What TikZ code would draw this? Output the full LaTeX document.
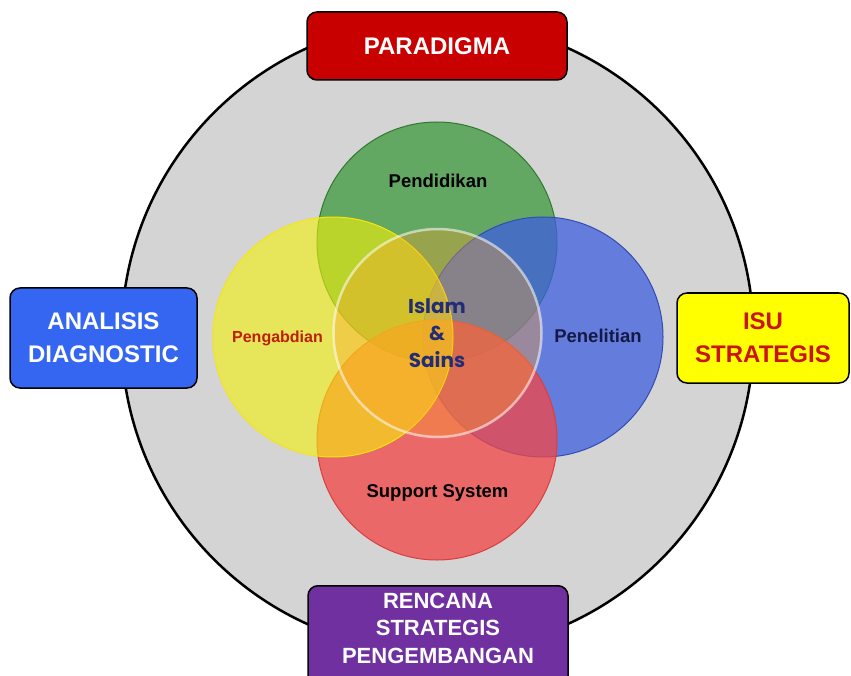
\documentclass[tikz,border=0pt]{standalone}
\usepackage{fontspec}
\setmainfont{Liberation Sans}
\newfontfamily\gothicfont{Poppins}
\usetikzlibrary{positioning}
\definecolor{ringgray}{RGB}{212,212,212}
\definecolor{paradigmared}{RGB}{200,0,0}
\definecolor{analisisblue}{RGB}{52,102,242}
\definecolor{isuyellow}{RGB}{255,255,0}
\definecolor{isured}{RGB}{200,20,20}
\definecolor{rencanapurple}{RGB}{112,48,160}
\definecolor{petalgreen}{RGB}{60,153,60}
\definecolor{petalblue}{RGB}{63,96,223}
\definecolor{petalred}{RGB}{243,69,69}
\definecolor{petalyellow}{RGB}{245,242,9}
\definecolor{coreorange}{RGB}{255,160,40}
\definecolor{islamblue}{RGB}{35,45,115}
\definecolor{pengabdianred}{RGB}{190,30,10}
\definecolor{penelitianblue}{RGB}{20,25,70}
\def\petalsize{240pt}
\def\coresize{208pt}
\tikzset{
semithick,
my box/.style={draw=black,line width=1.5pt,rounded corners=3.5mm,inner sep=0pt,
  align=center,text=white,font=\bfseries\fontsize{24}{33}\selectfont},
petal/.style={circle,minimum size=\petalsize,inner sep=0pt,line width=1pt},
petal text/.style={anchor=base,inner sep=0pt,font=\bfseries\fontsize{18.5}{22}\selectfont},
}
\begin{document}
\begin{tikzpicture}[x=1pt,y=-1pt]
\useasboundingbox (0,0) rectangle (851,676);
% outer ring
\node[circle,minimum size=632pt,inner sep=0pt,fill=ringgray,draw=black,line width=2.5pt] (ring) at (437.5,336) {};
% four petals and the core
\node[petal,fill=petalgreen,fill opacity=0.75,draw=petalgreen!80!black] (pendidikan) at (437,242) {};
\node[petal,fill=petalblue,fill opacity=0.75,draw=petalblue!80!black] (penelitian) at (543,337) {};
\node[petal,fill=petalred,fill opacity=0.75,draw=petalred!90!black] (support) at (437,440) {};
\node[petal,fill=petalyellow,fill opacity=0.6,draw=petalyellow!90!orange] (pengabdian) at (333,337) {};
\node[circle,minimum size=\coresize,inner sep=0pt,fill=coreorange,fill opacity=0.35,
  draw=white,draw opacity=0.55,line width=2.5pt] (core) at (437.5,333) {};
% labels
\node[petal text] (pendidikan label) at (438,188) {Pendidikan};
\node[petal text,text=penelitianblue] (penelitian label) at (598,342) {Penelitian};
\node[petal text,text=black] (support label) at (437.5,497) {Support System};
\node[petal text,text=pengabdianred,font=\bfseries\fontsize{16}{20}\selectfont] (pengabdian label) at (277.5,342) {Pengabdian};
\node[inner sep=0pt,align=center,text=islamblue,font=\gothicfont\bfseries\fontsize{20}{27}\selectfont] (islam sains) at (437,333) {Islam\\\&\\Sains};
% boxes
\node[my box,fill=paradigmared,minimum width=260pt,minimum height=68pt] (paradigma) at (437,46) {PARADIGMA};
\node[my box,fill=analisisblue,minimum width=187pt,minimum height=100pt] (analisis) at (103.5,338) {ANALISIS\\DIAGNOSTIC};
\node[my box,fill=isuyellow,text=isured,minimum width=172pt,minimum height=90pt] (isu) at (763,338) {ISU\\STRATEGIS};
\node[my box,fill=rencanapurple,minimum width=260pt,minimum height=110pt,anchor=north] (rencana) at (438,585) {};
\node[my box,draw=none,fill=none,font=\bfseries\fontsize{22}{27.5}\selectfont,below=7pt of rencana.north] (rencana text) {RENCANA\\STRATEGIS\\PENGEMBANGAN};
\end{tikzpicture}
\end{document}
